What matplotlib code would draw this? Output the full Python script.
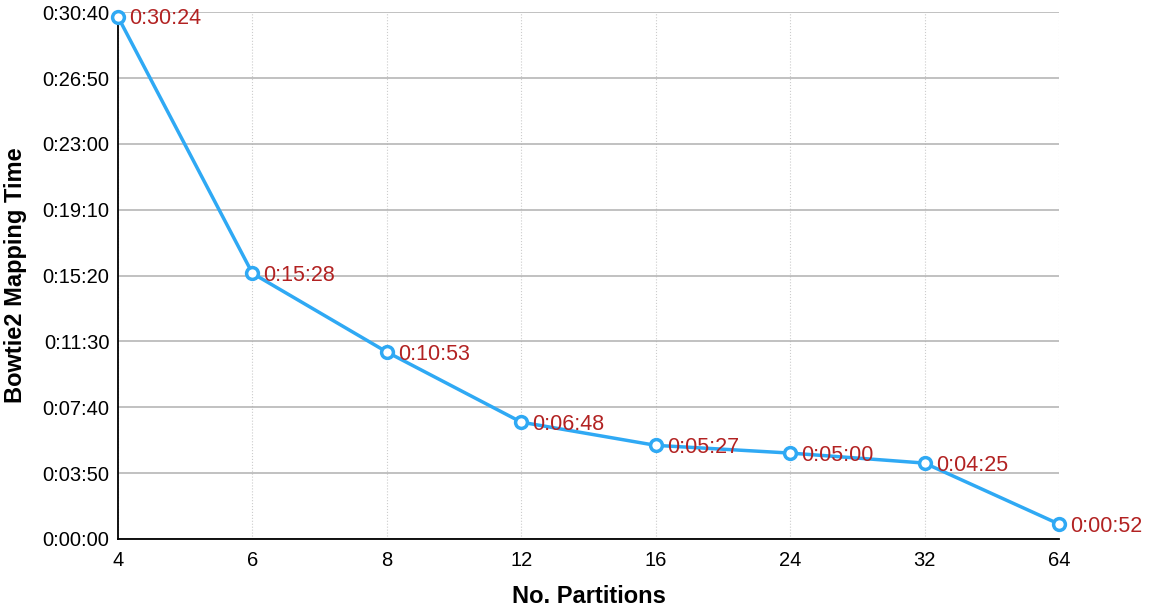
import matplotlib.pyplot as plt
from matplotlib.ticker import FuncFormatter

partitions = ["4", "6", "8", "12", "16", "24", "32", "64"]
# mapping time in seconds
times = [1824, 928, 653, 408, 327, 300, 265, 52]
labels = ["0:30:24", "0:15:28", "0:10:53", "0:06:48", "0:05:27", "0:05:00", "0:04:25", "0:00:52"]
yticks = [0, 230, 460, 690, 920, 1150, 1380, 1610, 1840]


def hms(v, pos=None):
    v = int(round(v))
    return "%d:%02d:%02d" % (v // 3600, (v % 3600) // 60, v % 60)


def main():
    plt.rcParams["font.family"] = ["Liberation Sans", "DejaVu Sans"]
    fig = plt.figure(figsize=(11.53, 6.09), dpi=100)
    ax = fig.add_axes([0.1023, 0.115, 0.8162, 0.865])

    x = range(len(partitions))
    ax.plot(x, times, color="#2fa9f4", lw=2.5, marker="o", ms=8.5,
            mfc="white", mec="#2fa9f4", mew=2.5, zorder=3, clip_on=False)
    for i, (t, lab) in enumerate(zip(times, labels)):
        ax.annotate(lab, (i, t), xytext=(8, -1.5), textcoords="offset points",
                    ha="left", va="center", color="#b22222", fontsize=15.5)

    ax.set_xlim(0, len(partitions) - 1)
    ax.set_ylim(0, 1840)
    ax.set_xticks(list(x))
    ax.set_xticklabels(partitions)
    ax.set_yticks(yticks)
    ax.yaxis.set_major_formatter(FuncFormatter(hms))
    ax.tick_params(axis="both", length=0, labelsize=14.5, pad=9)
    ax.tick_params(axis="y", pad=6)

    ax.grid(axis="y", color="#b0b0b0", lw=1.1)
    ax.grid(axis="x", color="#cccccc", lw=0.8, ls=":")
    ax.set_axisbelow(True)
    for s in ["top", "right"]:
        ax.spines[s].set_visible(False)
    for s in ["left", "bottom"]:
        ax.spines[s].set_linewidth(1.3)
        ax.spines[s].set_color("black")

    ax.set_xlabel("No. Partitions", fontsize=17, fontweight="bold", labelpad=10.5)
    ax.set_ylabel("Bowtie2 Mapping Time", fontsize=17, fontweight="bold", labelpad=11)

    fig.savefig("out.png", dpi=100)
    plt.close(fig)


if __name__ == "__main__":
    main()
